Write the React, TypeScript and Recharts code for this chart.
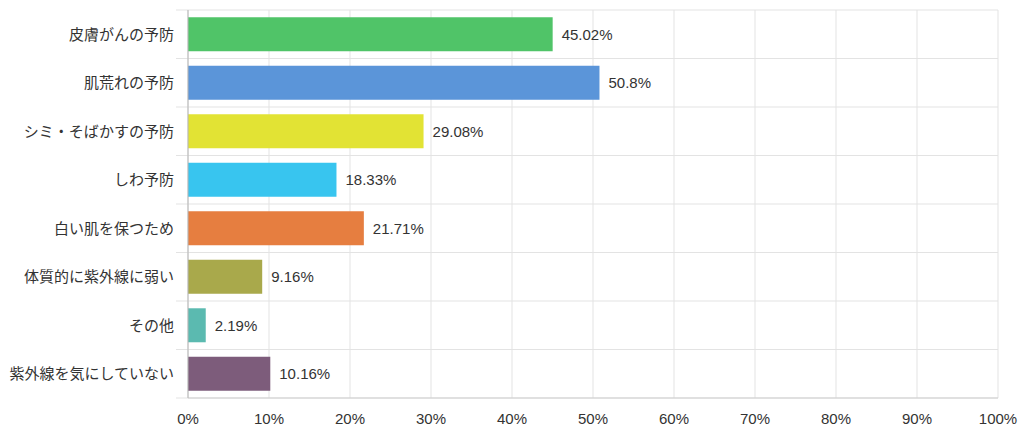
import React from "react";
import {
  BarChart,
  Bar,
  XAxis,
  YAxis,
  CartesianGrid,
  Cell,
  LabelList,
} from "recharts";

const categories = [
  "皮膚がんの予防",
  "肌荒れの予防",
  "シミ・そばかすの予防",
  "しわ予防",
  "白い肌を保つため",
  "体質的に紫外線に弱い",
  "その他",
  "紫外線を気にしていない",
];

const percents = [45.02, 50.8, 29.08, 18.33, 21.71, 9.16, 2.19, 10.16];

const barColors = [
  "#50c468",
  "#5b95d9",
  "#e2e334",
  "#38c5ef",
  "#e67e40",
  "#a9a94b",
  "#5bbab0",
  "#7d5c7b",
];

const xTicks = [0, 10, 20, 30, 40, 50, 60, 70, 80, 90, 100];

const data = categories.map((name, i) => ({ name, value: percents[i] }));

const FONT = '"Liberation Sans", Arial, "Noto Sans CJK JP", sans-serif';
const GRID = "#e3e3e3";

// horizontal lines sit on the row boundaries, not on the row centres
const rowBoundaries = ({ offset }: any): number[] =>
  categories
    .map((_, i) => offset.top + (i * offset.height) / categories.length)
    .concat(offset.top + offset.height);

// boundary line that runs 12px past the left axis, like a tick mark
const BoundaryLine = (props: any) => (
  <line
    key={`h-${props.index}`}
    x1={props.x1 - 12}
    x2={props.x2}
    y1={props.y1}
    y2={props.y2}
    stroke={GRID}
    strokeWidth={1}
  />
);

const App: React.FC = () => (
  <div style={{ position: "absolute", left: 0, top: 0, fontFamily: FONT }}>
    <BarChart
      width={1024}
      height={432}
      data={data}
      layout="vertical"
      margin={{ top: 10, right: 26, bottom: 33, left: 0 }}
      barCategoryGap="15%"
    >
      <CartesianGrid
        stroke={GRID}
        horizontal={BoundaryLine}
        horizontalCoordinatesGenerator={rowBoundaries}
      />
      <XAxis
        type="number"
        domain={[0, 100]}
        ticks={xTicks}
        height={1}
        tickFormatter={(v: number) => `${v}%`}
        tickLine={false}
        tickSize={0}
        tickMargin={15}
        axisLine={{ stroke: "#cfcfcf" }}
        tick={{ fill: "#333", fontSize: 15, fontFamily: FONT }}
        interval={0}
      />
      <YAxis
        type="category"
        dataKey="name"
        width={188}
        tickLine={false}
        tickSize={0}
        tickMargin={14}
        axisLine={{ stroke: "#b5b5b5" }}
        tick={{ fill: "#333", fontSize: 15, fontFamily: FONT }}
        interval={0}
      />
      <Bar dataKey="value" isAnimationActive={false}>
        {data.map((_, i) => (
          <Cell key={i} fill={barColors[i]} />
        ))}
        <LabelList
          dataKey="value"
          position="right"
          offset={9}
          formatter={(v: number) => `${v}%`}
          style={{ fill: "#333", fontSize: 15, fontFamily: FONT }}
        />
      </Bar>
    </BarChart>
  </div>
);

export default App;
